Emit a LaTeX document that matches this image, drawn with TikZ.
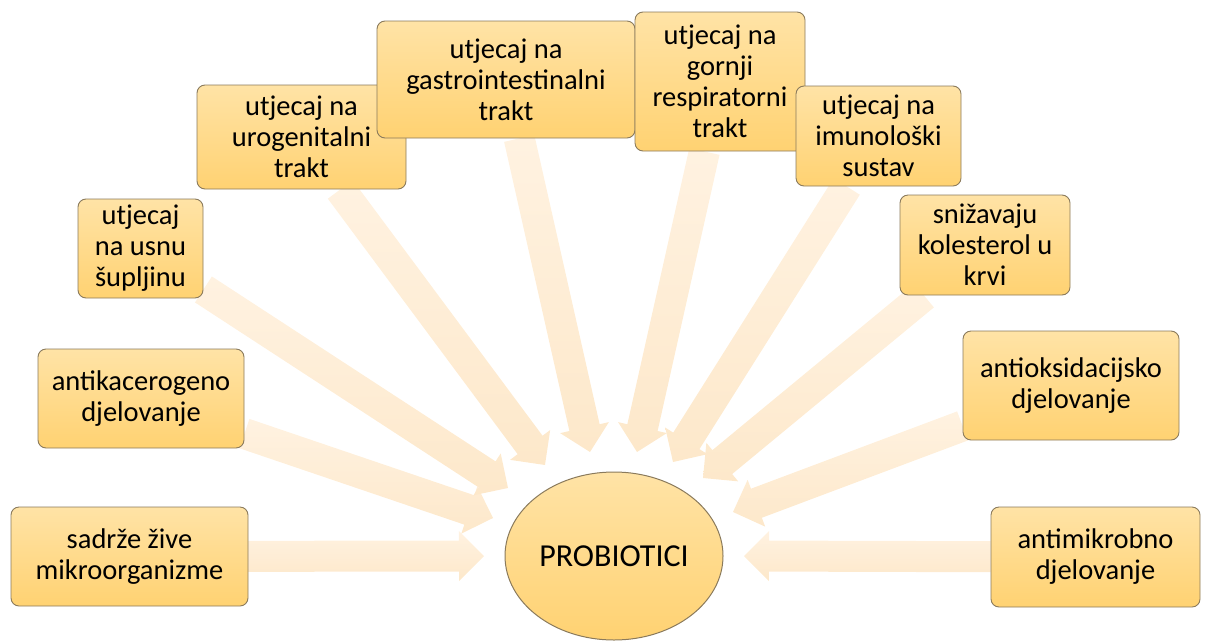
\documentclass[tikz,border=0pt]{standalone}
\usepackage{fontspec}
\setmainfont{Carlito}
\usetikzlibrary{calc,shapes.geometric,backgrounds}
\definecolor{boxtop}{HTML}{FFE3A6}
\definecolor{boxbot}{HTML}{FFD272}
\definecolor{boxline}{HTML}{8A7A5C}
\definecolor{arrowtop}{HTML}{FFF2E1}
\definecolor{arrowbot}{HTML}{FDE8CA}
\tikzset{
  effect/.style={draw=boxline, line width=0.9pt, rounded corners=8pt,
    top color=boxtop, bottom color=boxbot, align=center, inner sep=0pt,
    font=\fontsize{28.5}{31}\selectfont},
  centre/.style={ellipse, draw=boxline, line width=1pt,
    top color=boxtop, bottom color=boxbot, inner sep=0pt,
    minimum width=218pt, minimum height=168pt,
    font=\fontsize{32}{36}\selectfont},
  arrowfill/.style={top color=arrowtop, bottom color=arrowbot, draw=none}
}
\newcommand{\fatarrow}[2]{%
  \path (#1) -- (#2) coordinate[pos=0] (s);
  \coordinate (hb) at ($(#2)!25pt!(s)$);
  \shade[arrowfill] ($(s)!15.5pt!90:(#2)$) -- ($(hb)!15.5pt!90:(#2)$)
    -- ($(hb)!25pt!90:(#2)$) -- (#2) -- ($(hb)!25pt!-90:(#2)$)
    -- ($(hb)!15.5pt!-90:(#2)$) -- ($(s)!15.5pt!-90:(#2)$) -- cycle;}
\begin{document}
\begin{tikzpicture}[x=1pt,y=-1pt]
  \useasboundingbox (0,0) rectangle (1206,640);
  \node[centre] (pro) at (614,556) {PROBIOTICI};
  \node[effect, minimum width=237pt, minimum height=99pt] (zive) at (129.5,556.5) {sadrže žive\\mikroorganizme};
  \node[effect, minimum width=206pt, minimum height=99pt] (kancer) at (141,398.5) {antikacerogeno\\djelovanje};
  \node[effect, minimum width=125pt, minimum height=99pt] (usna) at (140.5,248.5) {utjecaj\\na usnu\\šupljinu};
  \node[effect, minimum width=209pt, minimum height=104pt] (uro) at (301.5,137) {utjecaj na\\urogenitalni\\trakt};
  \node[effect, minimum width=258pt, minimum height=117pt] (gastro) at (506,79.5) {utjecaj na\\gastrointestinalni\\trakt};
  \node[effect, minimum width=170pt, minimum height=139pt] (resp) at (720,81.5) {utjecaj na\\gornji\\respiratorni\\trakt};
  \node[effect, minimum width=165pt, minimum height=100pt] (imuno) at (878.5,136) {utjecaj na\\imunološki\\sustav};
  \node[effect, minimum width=170pt, minimum height=100pt] (kolest) at (985,245) {snižavaju\\kolesterol u\\krvi};
  \node[effect, minimum width=216pt, minimum height=109pt] (oksid) at (1071,385.5) {antioksidacijsko\\djelovanje};
  \node[effect, minimum width=209pt, minimum height=100pt] (mikrob) at (1095.5,557) {antimikrobno\\djelovanje};
  \coordinate (t1) at ($(pro.center)+(-130,0)$);
  \coordinate (t2) at ($(pro.center)+(-121,-38)$);
  \coordinate (t3) at ($(pro.center)+(-106,-68)$);
  \coordinate (t4) at ($(pro.center)+(-69,-91)$);
  \coordinate (t5) at ($(pro.center)+(-24,-104)$);
  \coordinate (t6) at ($(pro.center)+(23,-104)$);
  \coordinate (t7) at ($(pro.center)+(59,-94)$);
  \coordinate (t8) at ($(pro.center)+(89,-78)$);
  \coordinate (t9) at ($(pro.center)+(119,-44)$);
  \coordinate (t10) at ($(pro.center)+(130,0)$);
  \begin{scope}[on background layer]
    \fatarrow{zive}{t1}
    \fatarrow{kancer}{t2}
    \fatarrow{usna}{t3}
    \fatarrow{uro}{t4}
    \fatarrow{gastro}{t5}
    \fatarrow{resp}{t6}
    \fatarrow{imuno}{t7}
    \fatarrow{kolest}{t8}
    \fatarrow{oksid}{t9}
    \fatarrow{mikrob}{t10}
  \end{scope}
\end{tikzpicture}
\end{document}
